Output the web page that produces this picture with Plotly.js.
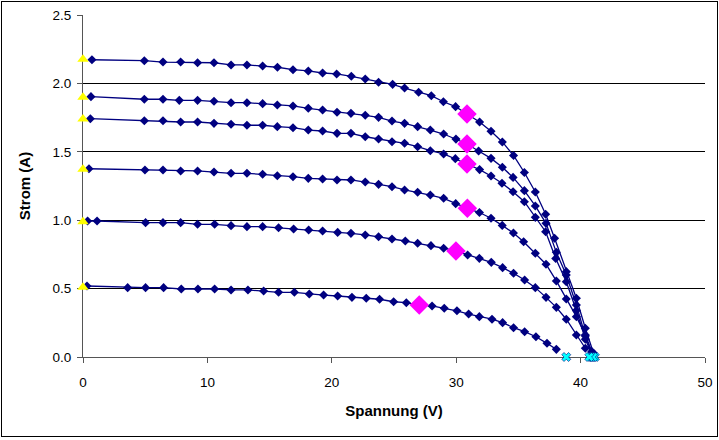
<!DOCTYPE html>
<html>
<head>
<meta charset="utf-8">
<script src="https://cdn.plot.ly/plotly-3.0.1.min.js"></script>
<style>
  html, body { margin: 0; padding: 0; background: #fff; }
  #wrap { position: relative; width: 719px; height: 440px; }
  #chart { position: absolute; left: 0; top: 0; width: 719px; height: 440px; }
  #frame { position: absolute; left: 1px; top: 1px; width: 715px; height: 434px; border: 1px solid #000; pointer-events: none; }
</style>
</head>
<body>
<div id="wrap"><div id="chart"></div><div id="frame"></div></div>
<script>
// ---- data (voltage V, current A) ----
const curve1V = [0.72,4.93,6.43,7.85,9.21,10.53,11.90,13.18,14.44,15.63,16.88,18.11,19.26,20.39,21.57,22.69,23.76,24.89,25.85,26.98,28.00,28.97,29.95,30.87,31.88,32.80,33.71,34.61,35.48,36.36,37.19,37.91,38.85,39.66,40.38,41.04];
const curve1I = [2.173,2.166,2.156,2.156,2.151,2.151,2.135,2.135,2.127,2.118,2.100,2.091,2.076,2.069,2.052,2.032,2.008,1.993,1.966,1.935,1.910,1.866,1.830,1.776,1.718,1.650,1.572,1.473,1.349,1.206,1.043,0.868,0.624,0.429,0.210,0.027];

const curve2V = [0.64,4.93,6.43,7.74,9.21,10.53,11.90,13.18,14.44,15.62,16.88,18.11,19.26,20.42,21.54,22.69,23.76,24.84,25.85,26.90,27.92,28.99,29.98,30.87,31.80,32.80,33.71,34.57,35.48,36.36,37.22,38.05,38.85,39.66,40.38,40.90];
const curve2I = [1.903,1.884,1.884,1.876,1.876,1.869,1.859,1.859,1.852,1.842,1.835,1.818,1.806,1.789,1.781,1.767,1.752,1.725,1.708,1.684,1.659,1.630,1.593,1.557,1.506,1.452,1.387,1.313,1.216,1.104,0.977,0.765,0.599,0.380,0.154,0.030];

const curve3V = [0.59,4.93,6.43,7.85,9.21,10.53,11.90,13.18,14.44,15.62,16.88,18.11,19.26,20.42,21.54,22.69,23.76,24.84,25.85,26.90,27.92,28.99,29.93,30.87,31.88,32.80,33.68,34.57,35.48,36.36,37.19,38.00,38.85,39.66,40.38,40.90];
const curve3I = [1.742,1.727,1.727,1.718,1.718,1.708,1.701,1.694,1.694,1.684,1.676,1.659,1.652,1.635,1.635,1.610,1.594,1.574,1.562,1.537,1.508,1.484,1.450,1.411,1.370,1.323,1.270,1.208,1.135,1.021,0.916,0.720,0.550,0.340,0.130,0.020];

const curve4V = [0.48,4.98,6.43,7.85,9.21,10.53,11.90,13.18,14.44,15.62,16.88,18.11,19.26,20.42,21.54,22.69,23.76,24.84,25.85,26.90,27.92,28.99,29.96,30.90,31.87,32.80,33.70,34.60,35.42,36.36,37.22,38.05,38.85,39.66,40.38,40.90];
const curve4I = [1.376,1.367,1.367,1.360,1.360,1.352,1.343,1.343,1.336,1.325,1.318,1.306,1.301,1.294,1.294,1.279,1.262,1.245,1.221,1.204,1.184,1.160,1.121,1.087,1.056,1.014,0.962,0.906,0.843,0.758,0.678,0.556,0.424,0.295,0.161,0.040];

const curve5V = [0.37,1.13,5.03,6.43,7.85,9.21,10.58,11.90,13.18,14.44,15.72,16.93,18.14,19.26,20.47,21.54,22.69,23.76,24.84,25.91,26.90,27.97,28.99,29.98,30.92,31.86,32.82,33.73,34.61,35.50,36.36,37.22,38.05,38.85,39.66,40.38];
const curve5I = [0.994,0.994,0.982,0.982,0.982,0.970,0.970,0.960,0.953,0.953,0.945,0.936,0.928,0.921,0.911,0.904,0.892,0.879,0.863,0.848,0.831,0.814,0.795,0.775,0.746,0.721,0.692,0.653,0.612,0.563,0.507,0.436,0.363,0.276,0.161,0.064];

const curve6V = [0.32,3.59,5.03,6.48,7.90,9.24,10.58,11.90,13.26,14.52,15.72,16.99,18.19,19.34,20.47,21.62,22.77,23.84,24.97,25.99,27.03,28.06,29.04,30.06,31.00,31.86,32.88,33.73,34.61,35.50,36.41,37.30,38.05];
const curve6I = [0.519,0.507,0.507,0.507,0.497,0.497,0.497,0.490,0.490,0.482,0.473,0.473,0.461,0.453,0.446,0.436,0.429,0.422,0.404,0.397,0.380,0.373,0.356,0.338,0.314,0.295,0.276,0.251,0.214,0.185,0.148,0.100,0.056];

// short-circuit current (at V = 0)
const iscV = [0, 0, 0, 0, 0, 0];
const iscI = [2.176, 1.898, 1.740, 1.372, 0.989, 0.510];
// maximum power points
const mppV = [30.87, 30.87, 30.87, 30.90, 29.98, 27.03];
const mppI = [1.776, 1.557, 1.411, 1.087, 0.775, 0.380];
// open-circuit voltage (at I = 0)
const vocV = [41.15, 40.95, 40.85, 41.0, 40.7, 38.85];
const vocI = [0, 0, 0, 0, 0, 0];

const xTicks = [0, 10, 20, 30, 40, 50];
const yTicks = [0, 0.5, 1.0, 1.5, 2.0, 2.5];

const NAVY = '#000080';
const curves = [[curve1V, curve1I],[curve2V, curve2I],[curve3V, curve3I],[curve4V, curve4I],[curve5V, curve5I],[curve6V, curve6I]];
const traces = curves.map(c => ({
  x: c[0], y: c[1], type: 'scatter', mode: 'lines+markers',
  line: {color: NAVY, width: 1.3},
  marker: {symbol: 'diamond', size: 7, color: NAVY},
  cliponaxis: false, hoverinfo: 'skip'
}));
traces.push({
  x: mppV, y: mppI, type: 'scatter', mode: 'markers',
  marker: {symbol: 'diamond', size: 15, color: '#FF00FF'}, cliponaxis: false
});
traces.push({
  x: iscV, y: iscI, type: 'scatter', mode: 'markers',
  marker: {symbol: 'triangle-up', size: 10, color: '#FFFF00'}, cliponaxis: false
});
traces.push({
  x: vocV, y: vocI, type: 'scatter', mode: 'markers',
  marker: {symbol: 'x', size: 8, color: '#00FFFF', line: {color: NAVY, width: 0.6}}, cliponaxis: false
});

const font = {family: 'Liberation Sans, Arial, sans-serif', size: 13.5, color: '#000'};
const titleFont = {family: 'Liberation Sans, Arial, sans-serif', size: 15, color: '#000', weight: 'bold'};
const layout = {
  width: 719, height: 440,
  margin: {l: 83, r: 14, t: 15, b: 83},
  paper_bgcolor: '#fff', plot_bgcolor: '#fff',
  showlegend: false,
  font: font,
  xaxis: {
    range: [0, 50], tickvals: xTicks, ticktext: xTicks.map(String),
    showgrid: false, zeroline: false, layer: 'below traces',
    showline: true, linecolor: '#555', linewidth: 1,
    ticks: 'outside', ticklen: 5, tickcolor: '#555', tickfont: font,
    ticklabelstandoff: 8,
    title: {text: 'Spannung (V)', font: titleFont, standoff: 16}
  },
  yaxis: {
    range: [0, 2.5], tickvals: yTicks, ticktext: yTicks.map(v => v.toFixed(1)),
    showgrid: true, gridcolor: '#000', gridwidth: 1, zeroline: false, layer: 'below traces',
    showline: true, linecolor: '#555', linewidth: 1,
    ticks: 'outside', ticklen: 5, tickcolor: '#555', tickfont: font,
    ticklabelstandoff: 3,
    title: {text: 'Strom (A)', font: titleFont, standoff: 18}
  }
};
Plotly.newPlot('chart', traces, layout, {staticPlot: true, displayModeBar: false});
</script>
</body>
</html>
